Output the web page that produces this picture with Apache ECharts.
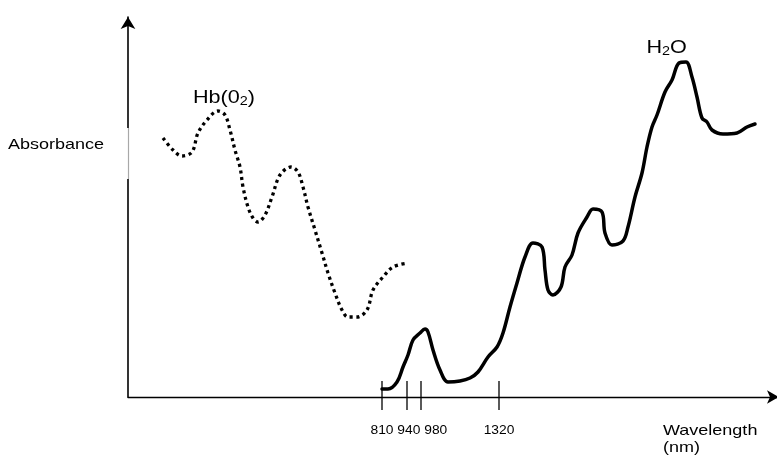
<!DOCTYPE html>
<html>
<head>
<meta charset="utf-8">
<script src="https://cdn.jsdelivr.net/npm/echarts@6/dist/echarts.min.js"></script>
<style>
  html, body { margin: 0; padding: 0; background: #fff; }
  #chart { width: 777px; height: 462px; }
</style>
</head>
<body>
<div id="chart"></div>
<script>
// Wavelength markers: position along the (schematic, non-linear) wavelength axis and label in nm
const tickPositions = [254, 279, 293, 371];
const tickLabels = ['810', '940', '980', '1320'];

// Oxy-haemoglobin absorbance profile: [axis position, relative absorbance]
const hbCurve = [
  [35, 259], [45, 247], [54, 241], [64, 245], [70, 264], [79, 277], [90, 286],
  [97, 282], [102, 267], [107, 247], [112, 230], [115, 210], [120, 190], [125, 179],
  [130, 175], [137, 182], [144, 200], [152, 222], [163, 230], [170, 225], [175, 210],
  [180, 190], [187, 167], [194, 144], [200, 124], [207, 104], [214, 87], [220, 80],
  [229, 80], [239, 87], [245, 107], [255, 120], [265, 130], [280, 134]
];

// Water absorbance profile: [axis position, relative absorbance]
const waterCurve = [
  [254, 8], [260, 8], [269, 15], [275, 30], [280, 42], [285, 57], [292, 64], [297, 68],
  [300, 65], [305, 47], [312, 27], [320, 15], [332, 16], [342, 19], [350, 25], [360, 40],
  [369, 50], [375, 64], [382, 90], [389, 114], [397, 140], [405, 154], [414, 150],
  [417, 127], [420, 107], [425, 102], [433, 110], [437, 130], [444, 142], [450, 164],
  [459, 180], [465, 188], [474, 185], [477, 164], [484, 152], [495, 156], [500, 170],
  [507, 200], [514, 224], [519, 250], [524, 270], [529, 282], [537, 305], [544, 317],
  [551, 334], [558, 335], [564, 320], [569, 300], [574, 279], [579, 275], [584, 267],
  [595, 263], [609, 264], [619, 270], [627, 273]
];

// Pale stretch of the absorbance axis, as [from, to] on the absorbance scale
const axisGap = [269, 218];

const FONT = '"Liberation Sans", Arial, Helvetica, sans-serif';
const TEXT_STRETCH = 1.2;
const TICK_FONT_SIZE = 12;
const TICK_STRETCH = 1.15;

const measureCtx = document.createElement('canvas').getContext('2d');
measureCtx.font = TICK_FONT_SIZE + 'px ' + FONT;
const labelGap = measureCtx.measureText(' ').width * TICK_STRETCH;

const chart = echarts.init(document.getElementById('chart'), null, { renderer: 'canvas' });

const axisCommon = {
  type: 'value',
  axisTick: { show: false },
  axisLabel: { show: false },
  splitLine: { show: false }
};

const option = {
  animation: false,
  backgroundColor: '#fff',
  grid: { left: 128, right: 0, top: 17, bottom: 65 },
  xAxis: Object.assign({}, axisCommon, {
    min: 0, max: 649,
    axisLine: {
      show: true, onZero: false,
      // arrow head pushed slightly past the right edge, so it is cut off
      symbol: ['none', 'arrow'], symbolSize: [10, 12], symbolOffset: [0, 2],
      lineStyle: { color: '#000', width: 1.3 }
    }
  }),
  yAxis: Object.assign({}, axisCommon, {
    min: 0, max: 380,
    axisLine: {
      show: true, onZero: false,
      symbol: ['none', 'arrow'], symbolSize: [11, 12],
      lineStyle: { color: '#000', width: 1.6 }
    }
  }),
  series: [
    {
      name: 'Hb(O2)',
      type: 'line',
      data: hbCurve,
      showSymbol: false,
      smooth: 0.35,
      silent: true,
      lineStyle: { color: '#000', width: 3.3, type: [3.1, 3.6], cap: 'butt' },
      markLine: {
        silent: true,
        symbol: 'none',
        animation: false,
        label: { show: false },
        emphasis: { disabled: true },
        data: [
          [{ coord: [0, axisGap[0]], lineStyle: { color: '#fff', width: 3, type: 'solid' } },
           { coord: [0, axisGap[1]] }],
          [{ coord: [0, axisGap[0]], lineStyle: { color: '#a8a8a8', width: 1.2, type: 'solid' } },
           { coord: [0, axisGap[1]] }]
        ]
      }
    },
    {
      name: 'H2O',
      type: 'line',
      data: waterCurve,
      showSymbol: false,
      smooth: 0.35,
      silent: true,
      lineStyle: { color: '#000', width: 3.5, cap: 'round', join: 'round' }
    },
    {
      name: 'markers',
      type: 'custom',
      data: tickPositions.map(p => [p, 0]),
      encode: { x: 0, y: 1 },
      clip: false,
      silent: true,
      renderItem(params, api) {
        const i = params.dataIndex;
        const base = api.coord([api.value(0), 0]);
        // place labels left to right, nudging each one right if it would run into the previous one
        let rightEdge = -Infinity;
        let cx = base[0];
        for (let k = 0; k <= i; k++) {
          const px = api.coord([tickPositions[k], 0])[0];
          const w = measureCtx.measureText(tickLabels[k]).width * TICK_STRETCH;
          cx = Math.max(px, rightEdge + labelGap + w / 2);
          rightEdge = cx + w / 2;
        }
        return {
          type: 'group',
          children: [
            {
              type: 'line',
              shape: { x1: base[0], y1: base[1] - 16, x2: base[0], y2: base[1] + 13 },
              style: { stroke: '#000', lineWidth: 1.3 }
            },
            {
              type: 'text',
              x: cx,
              y: base[1] + 34,
              scaleX: TICK_STRETCH,
              style: {
                text: tickLabels[i],
                font: TICK_FONT_SIZE + 'px ' + FONT,
                fill: '#000',
                align: 'center',
                verticalAlign: 'middle'
              }
            }
          ]
        };
      }
    }
  ],
  graphic: [
    {
      type: 'text',
      x: 8, y: 145,
      scaleX: TEXT_STRETCH,
      silent: true,
      style: {
        text: 'Absorbance',
        font: '15px ' + FONT,
        fill: '#000',
        align: 'left',
        verticalAlign: 'middle'
      }
    },
    {
      type: 'text',
      x: 663, y: 422.5,
      scaleX: TEXT_STRETCH,
      silent: true,
      style: {
        text: 'Wavelength\n(nm)',
        font: '15px ' + FONT,
        lineHeight: 17,
        fill: '#000',
        align: 'left',
        verticalAlign: 'top'
      }
    },
    {
      type: 'text',
      x: 193, y: 89.5,
      scaleX: TEXT_STRETCH,
      silent: true,
      style: {
        text: '{n|Hb(0}{s|2}{n|)}',
        fill: '#000',
        align: 'left',
        verticalAlign: 'top',
        rich: {
          n: { fontSize: 18, fontFamily: FONT, lineHeight: 18, fill: '#000' },
          s: { fontSize: 12, fontFamily: FONT, lineHeight: 8, verticalAlign: 'bottom', fill: '#000' }
        }
      }
    },
    {
      type: 'text',
      x: 646.5, y: 39.5,
      scaleX: TEXT_STRETCH,
      silent: true,
      style: {
        text: '{n|H}{s|2}{n|O}',
        fill: '#000',
        align: 'left',
        verticalAlign: 'top',
        rich: {
          n: { fontSize: 18, fontFamily: FONT, lineHeight: 18, fill: '#000' },
          s: { fontSize: 12, fontFamily: FONT, lineHeight: 8, verticalAlign: 'bottom', fill: '#000' }
        }
      }
    }
  ]
};

chart.setOption(option);
</script>
</body>
</html>
